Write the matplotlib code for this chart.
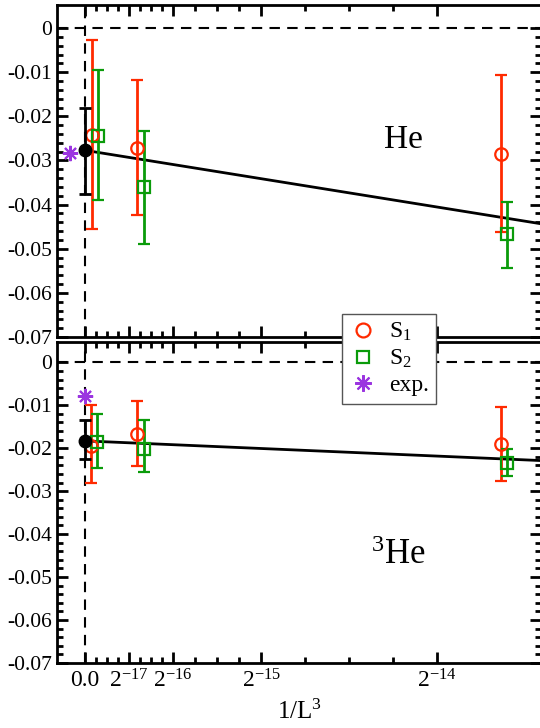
import matplotlib
matplotlib.use("Agg")
import matplotlib.pyplot as plt
from matplotlib.lines import Line2D

plt.rcParams["font.family"] = ["Liberation Serif", "DejaVu Serif"]
plt.rcParams["mathtext.fontset"] = "custom"
plt.rcParams["mathtext.rm"] = "Liberation Serif"
plt.rcParams["mathtext.it"] = "Liberation Serif:italic"
plt.rcParams["mathtext.default"] = "rm"
plt.rcParams["axes.unicode_minus"] = False

# ── データ (x は 2^-17 単位の 1/L^3) ─────────────────────────────
RED    = "#ff2a00"
GREEN  = "#0a9b0a"
PURPLE = "#9b35e0"

# He
he_s1_x   = [0.15, 1.17, 9.45]
he_s1_y   = [-0.0243, -0.0271, -0.0285]
he_s1_lo  = [-0.0456, -0.0424, -0.0462]
he_s1_hi  = [-0.0027, -0.0117, -0.0106]
he_s2_x   = [0.29, 1.33, 9.58]
he_s2_y   = [-0.0245, -0.0361, -0.0467]
he_s2_lo  = [-0.0390, -0.0489, -0.0543]
he_s2_hi  = [-0.0096, -0.0233, -0.0394]
he_ext    = (0.0, -0.0277, -0.0375, -0.0182)   # x, y, lo, hi
he_exp    = (-0.33, -0.0282)
he_fit_x  = [0.0, 10.4]
he_fit_y  = [-0.0277, -0.0444]

# 3He
he3_s1_x  = [0.13, 1.17, 9.45]
he3_s1_y  = [-0.0195, -0.0166, -0.0191]
he3_s1_lo = [-0.0281, -0.0242, -0.0277]
he3_s1_hi = [-0.0100, -0.0091, -0.0104]
he3_s2_x  = [0.28, 1.33, 9.58]
he3_s2_y  = [-0.0186, -0.0201, -0.0234]
he3_s2_lo = [-0.0247, -0.0256, -0.0264]
he3_s2_hi = [-0.0121, -0.0135, -0.0201]
he3_ext   = (0.0, -0.0183, -0.0226, -0.0135)
he3_exp   = (0.0, -0.0078)
he3_fit_x = [0.0, 10.4]
he3_fit_y = [-0.0183, -0.0229]

XTICKS      = [0, 1, 2, 4, 8]
XTICKLABELS = ["0.0", "$2^{-17}$", "$2^{-16}$", "$2^{-15}$", "$2^{-14}$"]
XMINOR      = [0.25, 0.5, 0.75, 1.25, 1.5, 1.75, 2.5, 3, 3.5, 5, 6, 7]
YTICKS      = [0, -0.01, -0.02, -0.03, -0.04, -0.05, -0.06, -0.07]
YTICKLABELS = ["0", "-0.01", "-0.02", "-0.03", "-0.04", "-0.05", "-0.06", "-0.07"]


def errs(y, lo, hi):
    return [[v - l for v, l in zip(y, lo)], [h - v for v, h in zip(y, hi)]]


def draw_panel(ax, s1, s2, ext, exp, fit, ymax):
    ax.axhline(0, color="black", lw=1.5, ls=(0, (5, 3.5)), zorder=1)
    ax.axvline(0, color="black", lw=1.5, ls=(0, (5, 3.5)), zorder=1)
    ax.plot(fit[0], fit[1], color="black", lw=2, zorder=2)
    x, y, lo, hi = s1
    ax.errorbar(x, y, yerr=errs(y, lo, hi), fmt="o", ms=9, mfc="none",
                mec=RED, mew=1.6, ecolor=RED, elinewidth=2, capsize=4,
                capthick=2, zorder=3)
    x, y, lo, hi = s2
    ax.errorbar(x, y, yerr=errs(y, lo, hi), fmt="s", ms=9, mfc="none",
                mec=GREEN, mew=1.6, ecolor=GREEN, elinewidth=2, capsize=4,
                capthick=2, zorder=3)
    ex, ey, elo, ehi = ext
    ax.errorbar([ex], [ey], yerr=errs([ey], [elo], [ehi]), fmt="o", ms=9,
                color="black", elinewidth=2, capsize=4, capthick=2, zorder=4)
    ax.plot([exp[0]], [exp[1]], marker=(8, 2, 0), ms=11, mew=1.5,
            color=PURPLE, ls="none", zorder=5)

    ax.set_xlim(-0.636, 10.36)
    ax.set_ylim(-0.07, ymax)
    ax.set_xticks(XTICKS)
    ax.set_xticks(XMINOR, minor=True)
    ax.set_yticks(YTICKS)
    ax.set_yticklabels(YTICKLABELS)
    ax.set_yticks([-0.002 * i for i in range(36) if i % 5], minor=True)
    ax.tick_params(which="both", direction="in", top=True, right=True,
                   width=2, labelsize=15.5)
    ax.tick_params(which="major", length=8)
    ax.tick_params(which="minor", length=4)
    for sp in ax.spines.values():
        sp.set_linewidth(2)


fig = plt.figure(figsize=(5.4, 7.28), dpi=100)
ax1 = fig.add_axes([0.1056, 0.537, 0.8964, 0.456])
ax2 = fig.add_axes([0.1056, 0.0895, 0.8964, 0.4405])

draw_panel(ax1, (he_s1_x, he_s1_y, he_s1_lo, he_s1_hi),
           (he_s2_x, he_s2_y, he_s2_lo, he_s2_hi),
           he_ext, he_exp, (he_fit_x, he_fit_y), 0.0052)
draw_panel(ax2, (he3_s1_x, he3_s1_y, he3_s1_lo, he3_s1_hi),
           (he3_s2_x, he3_s2_y, he3_s2_lo, he3_s2_hi),
           he3_ext, he3_exp, (he3_fit_x, he3_fit_y), 0.0047)

ax1.set_xticklabels([])
ax2.set_xticklabels(XTICKLABELS)
ax2.tick_params(axis="x", labelsize=17, pad=5)
ax2.set_xlabel("1/L$^3$", fontsize=18, labelpad=5)

ax1.text(6.8, -0.0271, "He", fontsize=24, ha="left", va="baseline")
ax2.text(6.5, -0.0470, "$^3$He", fontsize=25, ha="left", va="baseline")

handles = [
    Line2D([], [], marker="o", ms=10, mfc="none", mec=RED, mew=1.6, ls="none"),
    Line2D([], [], marker="s", ms=9, mfc="none", mec=GREEN, mew=1.6, ls="none"),
    Line2D([], [], marker=(8, 2, 0), ms=12, mew=1.5, color=PURPLE, ls="none"),
]
leg = fig.legend(handles, ["S$_1$", "S$_2$", "exp."], loc="upper left",
                 bbox_to_anchor=(0.633, 0.569), borderaxespad=0,
                 fancybox=False, framealpha=1, fontsize=17,
                 handletextpad=0.5, labelspacing=0.2, borderpad=0.3,
                 handlelength=1.2)
leg.get_frame().set_edgecolor("#555555")
leg.get_frame().set_linewidth(1)
leg.set_zorder(10)

fig.savefig("out.png", dpi=100)
